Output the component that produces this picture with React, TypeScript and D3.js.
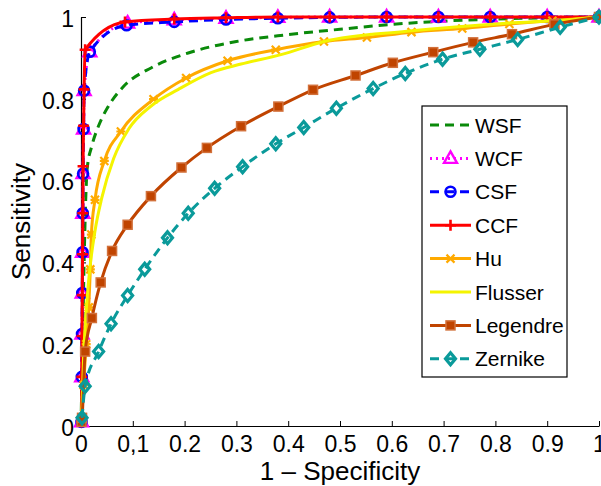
import React, { useEffect, useRef } from "react";
import * as d3 from "d3";

// ROC data (x = 1 - specificity, y = sensitivity)
const wsfX = [0, 0.003, 0.006, 0.009, 0.012, 0.021, 0.034, 0.053, 0.082, 0.136, 0.207, 0.3, 0.4, 0.5, 0.6, 0.7, 0.8, 0.9, 1];
const wsfY = [0, 0.2, 0.4, 0.55, 0.63, 0.685, 0.734, 0.782, 0.83, 0.876, 0.912, 0.94, 0.957, 0.97, 0.982, 0.99, 0.995, 0.998, 1];

const wcfX = [0.001, 0.0015, 0.002, 0.0025, 0.003, 0.0035, 0.004, 0.005, 0.006, 0.017, 0.09, 0.18, 0.28, 0.38, 0.48, 0.59, 0.69, 0.79, 0.9, 1];
const wcfY = [0.01, 0.12, 0.225, 0.325, 0.425, 0.52, 0.617, 0.726, 0.82, 0.915, 0.985, 0.993, 0.997, 0.999, 1, 1, 1, 1, 1, 1];

const csfX = [0.001, 0.0015, 0.002, 0.0025, 0.003, 0.0035, 0.004, 0.005, 0.006, 0.017, 0.088, 0.18, 0.28, 0.38, 0.48, 0.59, 0.69, 0.79, 0.9, 1];
const csfY = [0.01, 0.12, 0.225, 0.325, 0.425, 0.52, 0.617, 0.726, 0.82, 0.915, 0.98, 0.988, 0.994, 0.997, 0.999, 1, 1, 1, 1, 1];

const ccfX = [0.001, 0.0015, 0.002, 0.0025, 0.003, 0.0035, 0.004, 0.005, 0.006, 0.008, 0.085, 0.18, 0.28, 0.38, 0.48, 0.59, 0.69, 0.79, 0.9, 1];
const ccfY = [0.01, 0.12, 0.22, 0.32, 0.42, 0.52, 0.635, 0.734, 0.823, 0.92, 0.988, 0.995, 0.998, 1, 1, 1, 1, 1, 1, 1];

const huX = [0.001, 0.005, 0.01, 0.015, 0.018, 0.02, 0.027, 0.045, 0.077, 0.14, 0.203, 0.283, 0.376, 0.469, 0.552, 0.638, 0.736, 0.827, 0.91, 1];
const huY = [0.01, 0.1, 0.2, 0.29, 0.383, 0.468, 0.553, 0.648, 0.72, 0.799, 0.851, 0.893, 0.92, 0.94, 0.95, 0.963, 0.972, 0.983, 0.991, 1];

const flusserX = [0.001, 0.005, 0.012, 0.018, 0.027, 0.04, 0.063, 0.092, 0.136, 0.188, 0.251, 0.309, 0.386, 0.469, 0.629, 0.821, 0.949, 1];
const flusserY = [0.01, 0.17, 0.315, 0.395, 0.477, 0.557, 0.654, 0.726, 0.783, 0.823, 0.864, 0.885, 0.908, 0.94, 0.965, 0.985, 0.994, 1];

const legendreX = [0.001, 0.002, 0.008, 0.021, 0.038, 0.06, 0.09, 0.135, 0.194, 0.243, 0.309, 0.381, 0.448, 0.53, 0.602, 0.68, 0.757, 0.832, 0.914, 1];
const legendreY = [0.01, 0.02, 0.182, 0.264, 0.351, 0.428, 0.492, 0.562, 0.632, 0.68, 0.733, 0.781, 0.822, 0.857, 0.888, 0.914, 0.938, 0.958, 0.982, 1];

const zernikeX = [0.002, 0.008, 0.034, 0.058, 0.09, 0.123, 0.167, 0.207, 0.258, 0.312, 0.376, 0.43, 0.493, 0.564, 0.626, 0.698, 0.77, 0.843, 0.925, 1];
const zernikeY = [0.02, 0.097, 0.182, 0.25, 0.319, 0.383, 0.46, 0.52, 0.581, 0.634, 0.69, 0.73, 0.777, 0.825, 0.862, 0.897, 0.921, 0.945, 0.975, 1];

const xTicks = [0, 0.1, 0.2, 0.3, 0.4, 0.5, 0.6, 0.7, 0.8, 0.9, 1];
const xTickLabels = ["0", "0,1", "0.2", "0.3", "0.4", "0.5", "0.6", "0.7", "0.8", "0.9", "1"];
const yTicks = [0, 0.2, 0.4, 0.6, 0.8, 1];
const yTickLabels = ["0", "0.2", "0.4", "0.6", "0.8", "1"];

const seriesNames = ["WSF", "WCF", "CSF", "CCF", "Hu", "Flusser", "Legendre", "Zernike"];
const seriesX = [wsfX, wcfX, csfX, ccfX, huX, flusserX, legendreX, zernikeX];
const seriesY = [wsfY, wcfY, csfY, ccfY, huY, flusserY, legendreY, zernikeY];

const styles = [
  { color: "#0a8a0a", dash: "9,6", marker: "none" },
  { color: "#ff00ff", dash: "2,4", marker: "triangle" },
  { color: "#0000ff", dash: "9,6", marker: "circle" },
  { color: "#ff0000", dash: null, marker: "plus" },
  { color: "#ffaa00", dash: null, marker: "star" },
  { color: "#f4f400", dash: null, marker: "none" },
  { color: "#c04400", dash: null, marker: "square" },
  { color: "#0a9a9a", dash: "9,6", marker: "diamond" },
];

const font = "'Liberation Sans', Arial, Helvetica, sans-serif";

function drawMarker(g, kind, color, x, y) {
  if (kind === "circle") {
    g.append("circle").attr("cx", x).attr("cy", y).attr("r", 5)
      .attr("fill", "none").attr("stroke", color).attr("stroke-width", 2.6);
  } else if (kind === "triangle") {
    g.append("path").attr("d", `M${x},${y - 7}L${x + 6.5},${y + 4.5}L${x - 6.5},${y + 4.5}Z`)
      .attr("fill", "none").attr("stroke", color).attr("stroke-width", 2.4);
  } else if (kind === "plus") {
    g.append("path").attr("d", `M${x - 5.5},${y}H${x + 5.5}M${x},${y - 5.5}V${y + 5.5}`)
      .attr("stroke", color).attr("stroke-width", 2.6);
  } else if (kind === "star") {
    g.append("path")
      .attr("d", `M${x - 4},${y - 4}L${x + 4},${y + 4}M${x - 4},${y + 4}L${x + 4},${y - 4}M${x - 4.5},${y}H${x + 4.5}`)
      .attr("stroke", color).attr("stroke-width", 2.2);
  } else if (kind === "square") {
    g.append("rect").attr("x", x - 4.5).attr("y", y - 4.5).attr("width", 9).attr("height", 9)
      .attr("fill", color).attr("stroke", "#d2703a").attr("stroke-width", 1.5);
  } else if (kind === "diamond") {
    g.append("path").attr("d", `M${x},${y - 6}L${x + 5},${y}L${x},${y + 6}L${x - 5},${y}Z`)
      .attr("fill", "none").attr("stroke", color).attr("stroke-width", 3.2);
  }
}

const App = () => {
  const svgRef = useRef(null);

  useEffect(() => {
    const width = 601;
    const height = 486;
    const margin = { top: 17, right: 2, bottom: 60, left: 81 };

    const xScale = d3.scaleLinear().domain([0, 1]).range([margin.left, width - margin.right]);
    const yScale = d3.scaleLinear().domain([0, 1]).range([height - margin.bottom, margin.top]);

    const svg = d3.select(svgRef.current);
    svg.selectAll("*").remove();

    // axes (MATLAB style: ticks inside, box off)
    const xAxis = svg.append("g")
      .attr("transform", `translate(0, ${yScale(0)})`)
      .call(d3.axisBottom(xScale).tickValues(xTicks).tickSizeInner(-5).tickSizeOuter(0)
        .tickFormat((d, i) => xTickLabels[i]));
    xAxis.select(".domain").attr("stroke", "#000").attr("stroke-width", 1.2);
    xAxis.selectAll("text").attr("font-family", font).attr("font-size", 23).attr("fill", "#000")
      .attr("dy", "0").attr("y", 26);

    const yAxis = svg.append("g")
      .attr("transform", `translate(${xScale(0)}, 0)`)
      .call(d3.axisLeft(yScale).tickValues(yTicks).tickSizeInner(-5).tickSizeOuter(0)
        .tickFormat((d, i) => yTickLabels[i]));
    yAxis.select(".domain").attr("stroke", "#000").attr("stroke-width", 1.2);
    yAxis.selectAll("text").attr("font-family", font).attr("font-size", 23).attr("fill", "#000")
      .attr("x", -7).attr("dy", "0.4em");

    svg.append("text")
      .attr("x", (xScale(0) + xScale(1)) / 2)
      .attr("y", 480)
      .attr("text-anchor", "middle")
      .attr("font-family", font).attr("font-size", 26)
      .text("1 \u2013 Specificity");

    svg.append("text")
      .attr("transform", `translate(30, ${(yScale(0) + yScale(1)) / 2}) rotate(-90)`)
      .attr("text-anchor", "middle")
      .attr("font-family", font).attr("font-size", 26)
      .text("Sensitivity");

    const line = d3.line()
      .x((d) => xScale(d[0]))
      .y((d) => yScale(d[1]))
      .curve(d3.curveMonotoneX);

    seriesNames.forEach((name, i) => {
      const st = styles[i];
      const pts = seriesX[i].map((x, j) => [x, seriesY[i][j]]);
      const g = svg.append("g");
      g.append("path")
        .datum(pts)
        .attr("fill", "none")
        .attr("stroke", st.color)
        .attr("stroke-width", 3)
        .attr("stroke-dasharray", st.dash)
        .attr("d", line);
      pts.forEach((p) => drawMarker(g, st.marker, st.color, xScale(p[0]), yScale(p[1])));
    });

    // legend
    const lg = svg.append("g");
    lg.append("rect")
      .attr("x", 422).attr("y", 106).attr("width", 145).attr("height", 271)
      .attr("fill", "#fff").attr("stroke", "#000").attr("stroke-width", 1.2);
    seriesNames.forEach((name, i) => {
      const st = styles[i];
      const y = 125 + i * 33.4;
      lg.append("line")
        .attr("x1", 430).attr("x2", 471).attr("y1", y).attr("y2", y)
        .attr("stroke", st.color).attr("stroke-width", 3)
        .attr("stroke-dasharray", st.dash);
      drawMarker(lg, st.marker, st.color, 450.5, y);
      lg.append("text")
        .attr("x", 475).attr("y", y).attr("dy", "0.36em")
        .attr("font-family", font).attr("font-size", 21)
        .text(name);
    });
  }, []);

  return (
    <div style={{ position: "absolute", left: 0, top: 0 }}>
      <svg ref={svgRef} width={601} height={486}></svg>
    </div>
  );
};

export default App;
